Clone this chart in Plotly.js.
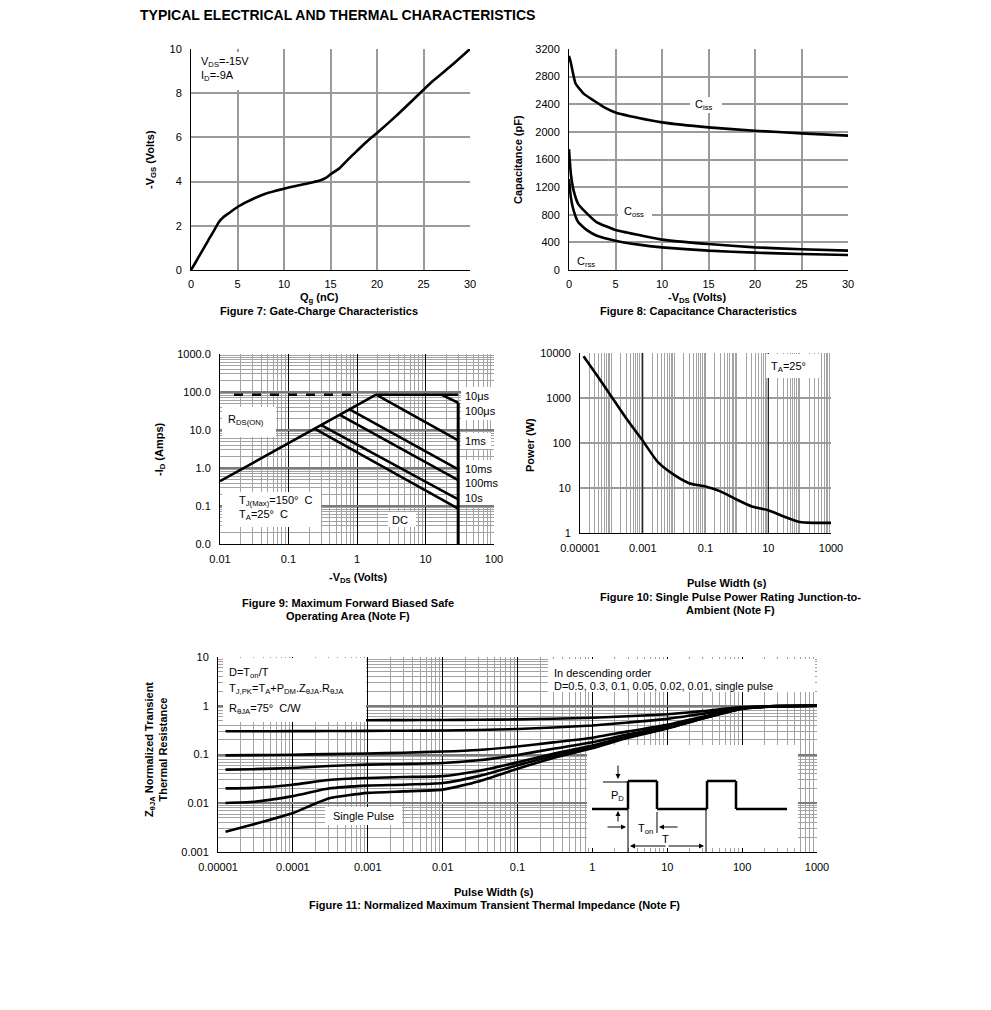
<!DOCTYPE html>
<html><head><meta charset="utf-8">
<script src="https://cdn.plot.ly/plotly-3.0.1.min.js"></script>
<style>html,body{margin:0;padding:0;background:#fff}</style>
</head><body><div id="chart" style="width:991px;height:1010px"></div>
<script>
// ---------- Figure 7: Gate charge ----------
const qgNC = [0,0.5,1,1.5,2,2.5,3,3.5,4,5,6,7,8,9,10,11,12,13,14,14.5,15,16,17,18,19,20,22,24,26,28,30];
const vgsVolts = [0,0.35,0.72,1.08,1.45,1.8,2.17,2.4,2.55,2.85,3.08,3.28,3.45,3.57,3.68,3.78,3.87,3.96,4.07,4.17,4.33,4.62,5.05,5.45,5.85,6.2,6.95,7.75,8.55,9.25,10.0];

// ---------- Figure 8: Capacitance ----------
const cissVds = [0,0.2,0.7,1.6,2.7,3.8,5,7.5,10,15,20,25,30];
const cissPF  = [3100,3000,2700,2550,2450,2355,2280,2200,2137,2065,2017,1978,1945];
const cVds    = [0,0.2,0.5,1,2,3,5,7.5,10,15,20,25,30];
const cossPF  = [1750,1390,1150,955,810,690,580,507,440,376,328,300,280];
const crssPF  = [1317,1052,860,690,570,497,425,367,328,280,251,232,217];

// ---------- Figure 9: Safe operating area ----------
const rdsVds = [0.01,1.9],  rdsId = [0.45,85];
const dashVds = [0.016,1.0], dashId = [85,85];
const us10Vds = [1.9,30],   us10Id = [85,85];
const us100Vds = [17,30],   us100Id = [85,52];
const ms1Vds = [1.9,30],    ms1Id = [85,5.3];
const ms10Vds = [0.78,30],  ms10Id = [35,0.92];
const ms100Vds = [0.56,30], ms100Id = [25,0.48];
const s10Vds = [0.3,30],    s10Id = [13.5,0.15];
const dcVds = [0.24,30],    dcId = [10.8,0.085];
const vmaxVds = [30,30],    vmaxId = [52,0.01];
const soaXTicks = [0.01,0.1,1,10,100], soaXText = ["0.01","0.1","1","10","100"];
const soaYTicks = [0.01,0.1,1,10,100,1000], soaYText = ["0.0","0.1","1.0","10.0","100.0","1000.0"];

// ---------- Figure 10: Single pulse power ----------
const pwSec = [1.3e-5,3e-5,1e-4,3e-4,1e-3,3e-3,0.01,0.03,0.1,0.3,1,3,10,30,100,300,1000];
const powerW = [8500,3700,1080,350,112,38,19.5,12.8,10.8,8.4,5.5,3.9,3.2,2.35,1.75,1.68,1.68];
const pwXTicks = [1e-5,1e-3,0.1,10,1000], pwXText = ["0.00001","0.001","0.1","10","1000"];
const pwYTicks = [1,10,100,1000,10000], pwYText = ["1","10","100","1000","10000"];
const pwDarkGrid = [0.001,10];

// ---------- Figure 11: Transient thermal impedance ----------
const zX = [1.26e-5,3e-5,1e-4,3e-4,1e-3,3e-3,1e-2,3e-2,0.1,0.3,1,3,10,30,100,300,1000];
const zD05  = [0.5,0.5,0.501,0.503,0.505,0.507,0.51,0.515,0.526,0.542,0.567,0.61,0.67,0.775,0.935,0.99,1.0];
const zD03  = [0.30,0.30,0.301,0.303,0.305,0.307,0.31,0.318,0.334,0.358,0.394,0.453,0.537,0.684,0.909,0.986,1.0];
const zD01  = [0.096,0.097,0.099,0.102,0.105,0.109,0.115,0.124,0.146,0.177,0.221,0.298,0.405,0.595,0.882,0.982,1.0];
const zD005 = [0.049,0.05,0.053,0.058,0.062,0.064,0.067,0.076,0.098,0.131,0.178,0.259,0.373,0.572,0.876,0.981,1.0];
const zD002 = [0.0202,0.0207,0.024,0.030,0.033,0.0345,0.036,0.046,0.069,0.103,0.152,0.236,0.353,0.559,0.873,0.980,1.0];
const zD001 = [0.0101,0.0107,0.0140,0.020,0.023,0.024,0.026,0.036,0.060,0.094,0.144,0.228,0.347,0.555,0.871,0.980,1.0];
const zSP   = [0.0026,0.0037,0.0063,0.0125,0.0163,0.0175,0.019,0.028,0.051,0.085,0.135,0.22,0.34,0.55,0.87,0.98,1.0];
const zXTicks = [1e-5,1e-4,1e-3,1e-2,0.1,1,10,100,1000];
const zXText = ["0.00001","0.0001","0.001","0.01","0.1","1","10","100","1000"];
const zYTicks = [0.001,0.01,0.1,1,10], zYText = ["0.001","0.01","0.1","1","10"];

// ---------- layout helpers ----------
const W = 991, H = 1010;
const FONT = 'Liberation Sans, Arial, sans-serif';
const PX = p => p / W;
const PY = p => 1 - p / H;
const tickfont = {family: FONT, size: 11, color: '#000'};

function trace(x, y, ax, extra) {
  return Object.assign({x: x, y: y, xaxis: 'x' + ax, yaxis: 'y' + ax, mode: 'lines',
    line: {color: '#000', width: 2.6}, hoverinfo: 'skip', showlegend: false}, extra || {});
}
const smooth = s => ({color: '#000', width: 2.6, shape: 'spline', smoothing: s});

const traces = [
  trace(qgNC, vgsVolts, '', {line: smooth(0.6)}),
  trace(cissVds, cissPF, '2', {line: smooth(0.4)}),
  trace(cVds, cossPF, '2', {line: smooth(0.4)}),
  trace(cVds, crssPF, '2', {line: smooth(0.4)}),
  trace(dashVds, dashId, '3', {line: {color: '#000', width: 2.4, dash: 'dash'}}),
  trace(rdsVds, rdsId, '3'),
  trace(us10Vds, us10Id, '3'),
  trace(us100Vds, us100Id, '3'),
  trace(ms1Vds, ms1Id, '3'),
  trace(ms10Vds, ms10Id, '3'),
  trace(ms100Vds, ms100Id, '3'),
  trace(s10Vds, s10Id, '3'),
  trace(dcVds, dcId, '3'),
  trace(vmaxVds, vmaxId, '3', {line: {color: '#000', width: 3}}),
  trace(pwSec, powerW, '4', {line: smooth(0.6)}),
];
[zD05, zD03, zD01, zD005, zD002, zD001, zSP].forEach(function (s) {
  traces.push(trace(zX, s, '5', {line: smooth(0.5)}));
});

function linAx(x0, x1, range, dtick, anchor) {
  return {domain: [PX(x0), PX(x1)], range: range, dtick: dtick, tick0: 0, anchor: anchor,
    showgrid: true, gridcolor: '#9a9a9a', gridwidth: 2, zeroline: false,
    showline: true, linecolor: '#000', linewidth: 1, ticks: '', ticklabelstandoff: 4,
    tickfont: tickfont, fixedrange: true};
}
function linAy(top, bottom, range, dtick, anchor) {
  return {domain: [PY(bottom), PY(top)], range: range, dtick: dtick, tick0: 0, anchor: anchor,
    showgrid: true, gridcolor: '#9a9a9a', gridwidth: 2, zeroline: false,
    showline: true, linecolor: '#000', linewidth: 1, ticks: '', ticklabelstandoff: 6,
    tickfont: tickfont, fixedrange: true};
}
function logAx(x0, x1, range, vals, text, anchor, majorColor, majorWidth, minorGrid) {
  const a = {type: 'log', domain: [PX(x0), PX(x1)], range: range, anchor: anchor,
    tickmode: 'array', tickvals: vals, ticktext: text,
    showgrid: true, gridcolor: majorColor, gridwidth: majorWidth, zeroline: false,
    showline: true, linecolor: '#000', linewidth: 1, ticks: '', ticklabelstandoff: 5,
    tickfont: tickfont, fixedrange: true};
  if (minorGrid) a.minor = {tickmode: 'linear', dtick: 'D1', showgrid: true, gridcolor: '#a3a3a3', gridwidth: 1, ticks: ''};
  return a;
}
function logAy(top, bottom, range, vals, text, anchor, majorColor, majorWidth, minorGrid) {
  const a = logAx(0, 1, range, vals, text, anchor, majorColor, majorWidth, minorGrid);
  a.domain = [PY(bottom), PY(top)];
  a.ticklabelstandoff = 6;
  return a;
}

const layout = {
  width: W, height: H, margin: {l: 0, r: 0, t: 0, b: 0}, paper_bgcolor: '#fff', plot_bgcolor: '#fff',
  showlegend: false, font: {family: FONT, size: 11, color: '#000'},
  xaxis: linAx(191, 470, [0, 30], 5, 'y'),
  yaxis: linAy(49, 270, [0, 10], 2, 'x'),
  xaxis2: linAx(569, 848, [0, 30], 5, 'y2'),
  yaxis2: linAy(49, 270, [0, 3200], 400, 'x2'),
  xaxis3: logAx(220, 494, [-2, 2], soaXTicks, soaXText, 'y3', '#000', 1, true),
  yaxis3: logAy(354, 544, [-2, 3], soaYTicks, soaYText, 'x3', '#7a7a7a', 2, true),
  xaxis4: logAx(580, 831, [-5, 3], pwXTicks, pwXText, 'y4', '#9a9a9a', 1, true),
  yaxis4: logAy(353, 533, [0, 4], pwYTicks, pwYText, 'x4', '#9a9a9a', 2, false),
  xaxis5: logAx(218, 817, [-5, 3], zXTicks, zXText, 'y5', '#000', 1, true),
  yaxis5: logAy(657, 852, [-3, 1], zYTicks, zYText, 'x5', '#7a7a7a', 2, true),
  shapes: [], annotations: []
};

// white label boxes (pixel coordinates of the page)
function box(x0, y0, x1, y1) {
  layout.shapes.push({type: 'rect', xref: 'paper', yref: 'paper', x0: PX(x0), x1: PX(x1), y0: PY(y1), y1: PY(y0),
    fillcolor: '#fff', line: {width: 0}, layer: 'above'});
}
function seg(x0, y0, x1, y1, w) {
  layout.shapes.push({type: 'line', xref: 'paper', yref: 'paper', x0: PX(x0), x1: PX(x1), y0: PY(y0), y1: PY(y1),
    line: {color: '#000', width: w || 1}, layer: 'above'});
}
function txt(x, y, text, o) {
  layout.annotations.push(Object.assign({xref: 'paper', yref: 'paper', x: PX(x), y: PY(y), text: text,
    showarrow: false, xanchor: 'left', yanchor: 'middle', font: {family: FONT, size: 11, color: '#000'}}, o || {}));
}
function arrow(xh, yh, xt, yt) {
  layout.annotations.push({xref: 'paper', yref: 'paper', x: PX(xh), y: PY(yh), ax: xt - xh, ay: yt - yh,
    text: '', showarrow: true, arrowhead: 2, arrowsize: 1, arrowwidth: 1, arrowcolor: '#000'});
}
const bold = s => '<b>' + s + '</b>';

// Fig 10 darker grid lines (grid styling, between gridlines and curve)
pwDarkGrid.forEach(function (v) {
  layout.shapes.push({type: 'line', xref: 'x4', yref: 'y4', x0: v, x1: v, y0: 1, y1: 10000,
    line: {color: '#000', width: 1}, layer: 'between'});
});

// Title
txt(138, 15, bold('TYPICAL ELECTRICAL AND THERMAL CHARACTERISTICS'), {font: {family: FONT, size: 14, color: '#000'}});

// Fig 7
box(194, 52, 239, 90);
txt(199, 62, 'V<sub>DS</sub>=-15V');
txt(199, 76, 'I<sub>D</sub>=-9A');
txt(151, 160, bold('-V<sub>GS</sub> (Volts)'), {textangle: -90, xanchor: 'center'});
txt(319, 298, bold('Q<sub>g</sub> (nC)'), {xanchor: 'center'});
txt(319, 311, bold('Figure 7: Gate-Charge Characteristics'), {xanchor: 'center'});

// Fig 8
box(690, 97, 722, 113);
txt(704, 105, 'C<sub>iss</sub>', {xanchor: 'center'});
box(618, 204, 652, 219);
txt(634, 212, 'C<sub>oss</sub>', {xanchor: 'center'});
box(572, 255, 603, 269);
txt(586, 262, 'C<sub>rss</sub>', {xanchor: 'center'});
txt(518, 160, bold('Capacitance (pF)'), {textangle: -90, xanchor: 'center'});
txt(697, 298, bold('-V<sub>DS</sub> (Volts)'), {xanchor: 'center'});
txt(698, 311, bold('Figure 8: Capacitance Characteristics'), {xanchor: 'center'});

// Fig 9
box(222, 407, 276, 437);
txt(226, 420, 'R<sub>DS(ON)</sub>');
box(222, 492, 321, 527);
txt(237, 501, 'T<sub>J(Max)</sub>=150°  C');
txt(237, 515, 'T<sub>A</sub>=25°  C');
box(388, 512, 416, 527);
txt(390, 520, 'DC');
box(461, 387, 497, 420);
txt(463, 396, '10μs');
txt(463, 411, '100μs');
box(461, 433, 491, 449);
txt(463, 441, '1ms');
box(460, 460, 498, 505);
txt(463, 469, '10ms');
txt(463, 483, '100ms');
txt(463, 498, '10s');
txt(160, 449, bold('-I<sub>D</sub> (Amps)'), {textangle: -90, xanchor: 'center'});
txt(358, 578, bold('-V<sub>DS</sub> (Volts)'), {xanchor: 'center'});
txt(348, 603, bold('Figure 9: Maximum Forward Biased Safe'), {xanchor: 'center'});
txt(348, 616, bold('Operating Area (Note F)'), {xanchor: 'center'});

// Fig 10
box(766, 354, 820, 378);
txt(769, 367, 'T<sub>A</sub>=25°');
txt(530, 445, bold('Power (W)'), {textangle: -90, xanchor: 'center'});
txt(727, 583, bold('Pulse Width (s)'), {xanchor: 'center'});
txt(730, 597, bold('Figure 10: Single Pulse Power Rating Junction-to-'), {xanchor: 'center'});
txt(730, 610, bold('Ambient (Note F)'), {xanchor: 'center'});

// Fig 11
box(223, 658, 366, 722);
txt(227, 673, 'D=T<sub>on</sub>/T');
txt(227, 689, 'T<sub>J,PK</sub>=T<sub>A</sub>+P<sub>DM</sub>.Z<sub>θJA</sub>.R<sub>θJA</sub>');
txt(227, 709, 'R<sub>θJA</sub>=75°  C/W');
box(548, 659, 815, 692);
txt(552, 673, 'In descending order');
txt(552, 686, 'D=0.5, 0.3, 0.1, 0.05, 0.02, 0.01, single pulse');
box(325, 807, 402, 825);
txt(363, 816, 'Single Pulse', {xanchor: 'center'});
// inset pulse diagram: white panel between gridlines and curves (data-space corners of the inset)
(function () {
  const xOf = p => Math.pow(10, -5 + (p - 218) / (817 - 218) * 8);
  const yOf = p => Math.pow(10, 1 - (p - 657) / (852 - 657) * 4);
  layout.shapes.push({type: 'rect', xref: 'x5', yref: 'y5', x0: xOf(587), x1: xOf(798), y0: yOf(848), y1: yOf(745),
    fillcolor: '#fff', line: {width: 0}, layer: 'between'});
})();
seg(592, 809, 628, 809, 2.5); seg(628, 809, 628, 781, 2.5); seg(628, 781, 657, 781, 2.5);
seg(657, 781, 657, 809, 2.5); seg(657, 809, 707, 809, 2.5); seg(707, 809, 707, 781, 2.5);
seg(707, 781, 736, 781, 2.5); seg(736, 781, 736, 809, 2.5); seg(736, 809, 787, 809, 2.5);
seg(603, 782, 628, 782, 1);
seg(628, 809, 628, 853, 1); seg(706, 809, 706, 853, 1); seg(657, 812, 657, 833, 1);
arrow(618, 779, 618, 764);
arrow(618, 811, 618, 823);
arrow(626, 827, 606, 827);
arrow(659, 827, 679, 827);
arrow(630, 846, 667, 846);
arrow(704, 846, 667, 846);
txt(617, 796, 'P<sub>D</sub>', {xanchor: 'center'});
txt(645, 829, 'T<sub>on</sub>', {xanchor: 'center'});
txt(665, 839, 'T', {xanchor: 'center'});
txt(156, 750, bold('Z<sub>θJA</sub> Normalized Transient<br>Thermal Resistance'), {textangle: -90, xanchor: 'center'});
txt(494, 892, bold('Pulse Width (s)'), {xanchor: 'center'});
txt(494, 905, bold('Figure 11: Normalized Maximum Transient Thermal Impedance (Note F)'), {xanchor: 'center'});

Plotly.newPlot('chart', traces, layout, {staticPlot: true, displayModeBar: false});
</script></body></html>
